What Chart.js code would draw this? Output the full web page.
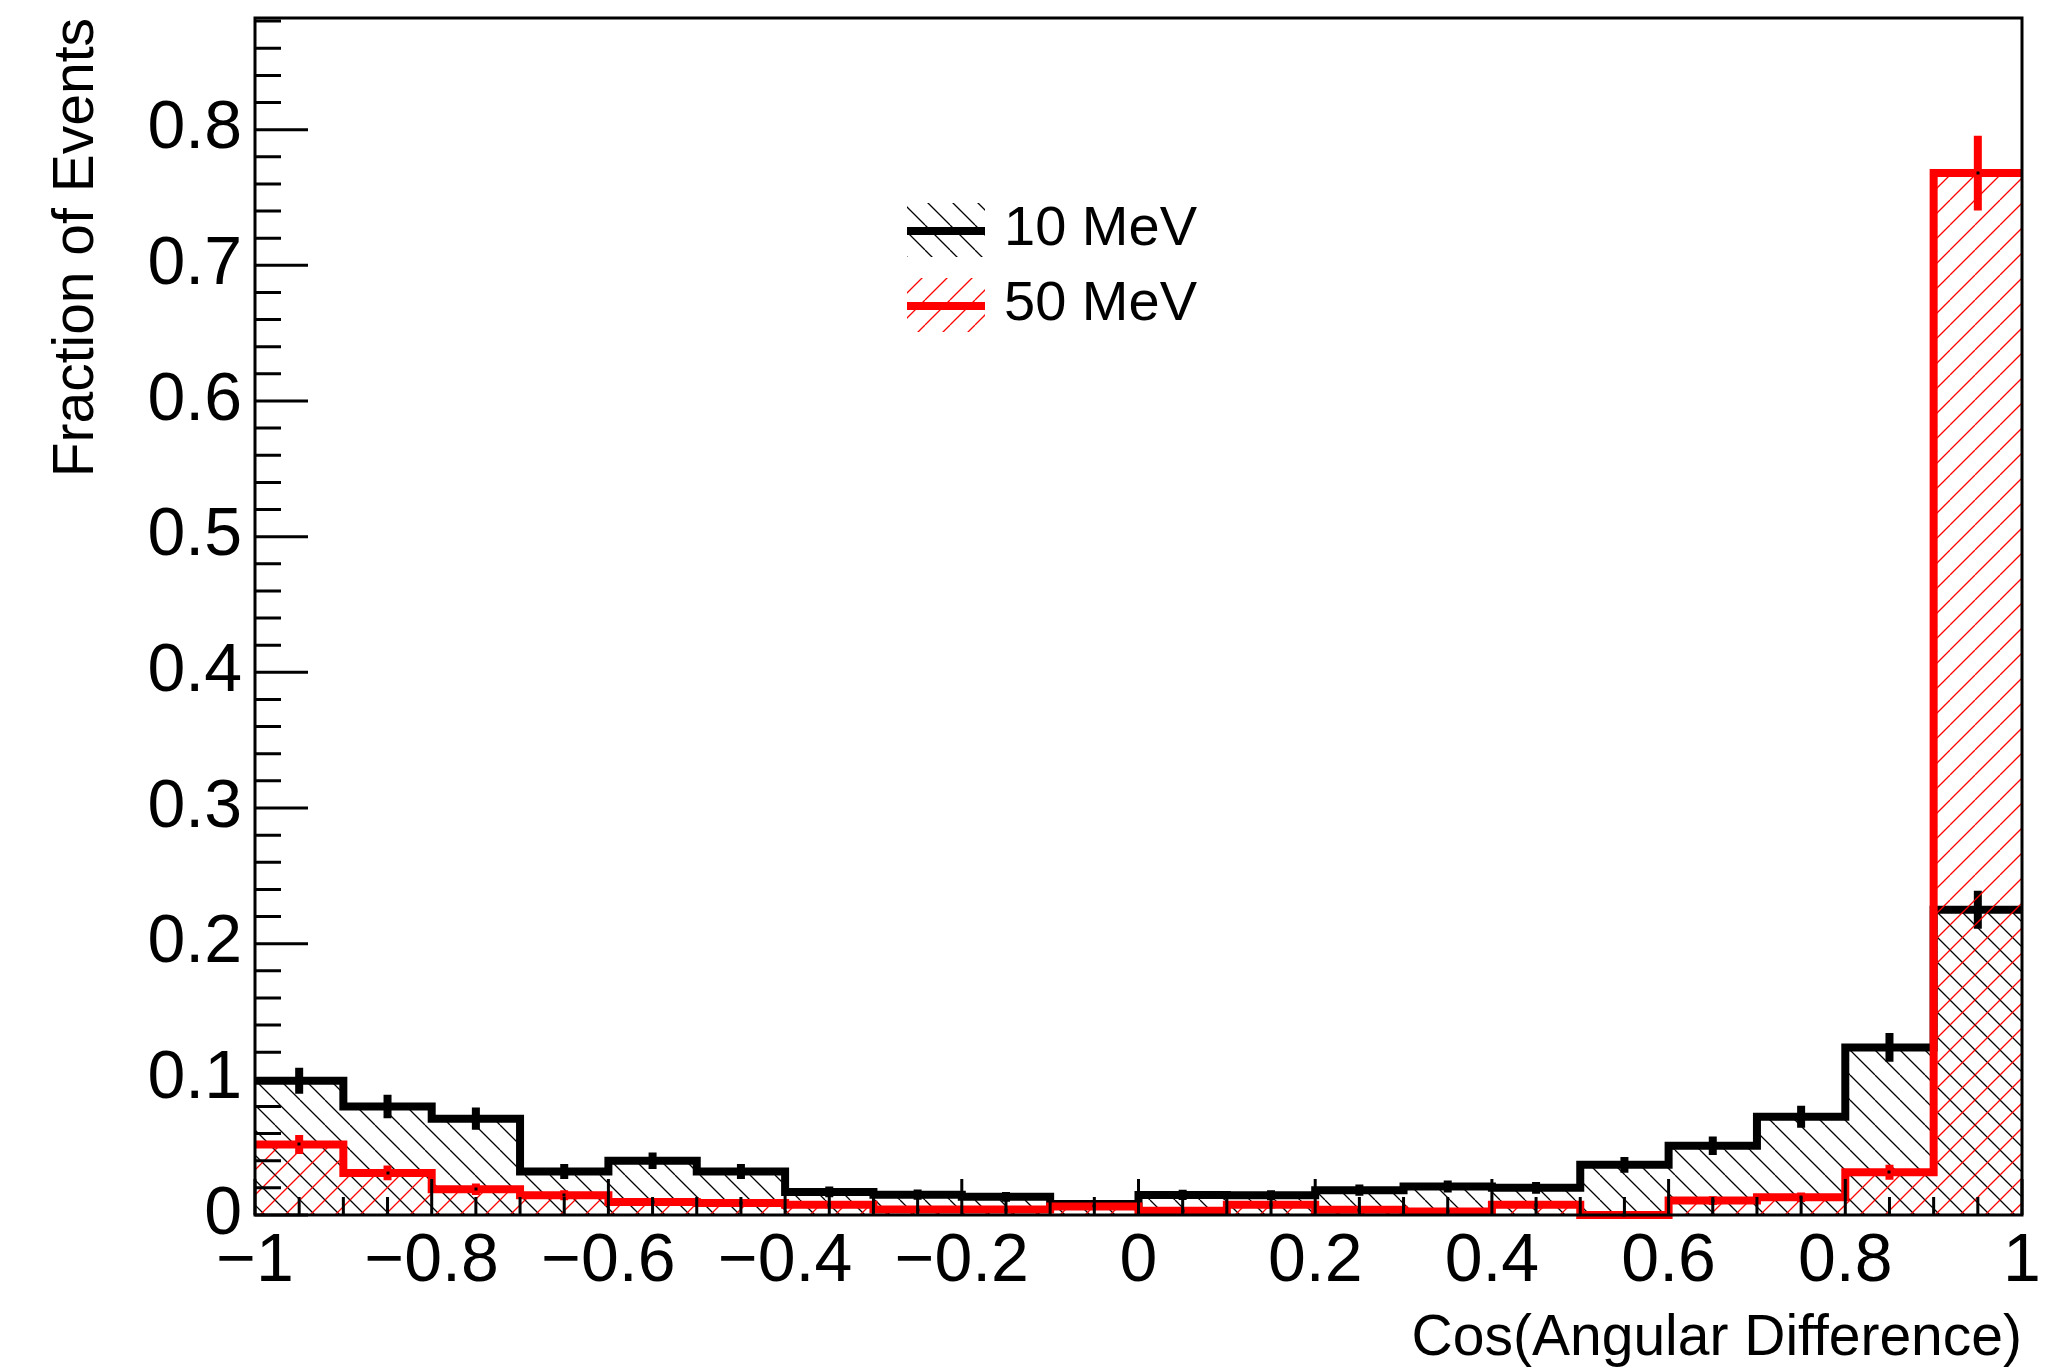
<!DOCTYPE html>
<html>
<head>
<meta charset="utf-8">
<title>Cos(Angular Difference)</title>
<script src="https://cdn.jsdelivr.net/npm/chart.js@4.4.1/dist/chart.umd.min.js"></script>
<style>
  html, body { margin: 0; padding: 0; background: #fff; }
  #wrap { width: 2071px; height: 1368px; }
</style>
</head>
<body>
<div id="wrap"><canvas id="hist" width="2071" height="1368"></canvas></div>
<script>
// 20 bins of 0.1 in cos(angle)
const binEdges = [-1, -0.9, -0.8, -0.7, -0.6, -0.5, -0.4, -0.3, -0.2, -0.1, 0,
                  0.1, 0.2, 0.3, 0.4, 0.5, 0.6, 0.7, 0.8, 0.9, 1];

// fraction of events per bin and its error
const frac10 = [0.099, 0.080, 0.071, 0.032, 0.040, 0.032, 0.017, 0.015, 0.0134, 0.0081,
                0.0148, 0.0146, 0.0183, 0.021, 0.020, 0.037, 0.051, 0.0725, 0.1235, 0.225];
const err10  = [0.0096, 0.0087, 0.0082, 0.0055, 0.0061, 0.0055, 0.0040, 0.0038, 0.0036, 0.0028,
                0.0038, 0.0037, 0.0041, 0.0044, 0.0043, 0.0058, 0.0068, 0.0081, 0.0106, 0.0140];
const frac50 = [0.052, 0.031, 0.019, 0.0145, 0.0096, 0.0088, 0.0076, 0.004, 0.004, 0.0063,
                0.0032, 0.0075, 0.0039, 0.0026, 0.0075, 0, 0.0106, 0.013, 0.0315, 0.768];
const err50  = [0.0070, 0.0054, 0.0042, 0.0037, 0.0030, 0.0029, 0.0027, 0.0019, 0.0019, 0.0024,
                0.0017, 0.0027, 0.0019, 0.0016, 0.0027, 0, 0.0032, 0.0035, 0.0055, 0.0275];

const seriesNames = ['10 MeV', '50 MeV'];

const xTicks = [-1, -0.8, -0.6, -0.4, -0.2, 0, 0.2, 0.4, 0.6, 0.8, 1];
const xTickLabels = ['\u22121', '\u22120.8', '\u22120.6', '\u22120.4', '\u22120.2', '0',
                     '0.2', '0.4', '0.6', '0.8', '1'];
const yTicks = [0, 0.1, 0.2, 0.3, 0.4, 0.5, 0.6, 0.7, 0.8];
const yTickLabels = ['0', '0.1', '0.2', '0.3', '0.4', '0.5', '0.6', '0.7', '0.8'];

const FONT = '"Liberation Sans", Arial, Helvetica, sans-serif';
const RED = '#ff0000';
const Y_MAX = 0.8823;
const LINE_W = 8;

const canvas = document.getElementById('hist');
const ctx2d = canvas.getContext('2d');

// diagonal hatch tile, dir '\\' or '/'
function hatch(color, dir, gap) {
  const tile = document.createElement('canvas');
  tile.width = gap; tile.height = gap;
  const g = tile.getContext('2d');
  g.strokeStyle = color;
  g.lineWidth = 1.3;
  g.beginPath();
  for (const off of [-gap, 0, gap]) {
    if (dir === '\\') { g.moveTo(off, 0); g.lineTo(off + gap, gap); }
    else { g.moveTo(off, gap); g.lineTo(off + gap, 0); }
  }
  g.stroke();
  return ctx2d.createPattern(tile, 'repeat');
}

const hatch10 = hatch('#000', '\\', 25);
const hatch50 = hatch(RED, '/', 25);

// histogram outline: each bin becomes a flat segment
function stepPoints(vals) {
  const pts = [];
  vals.forEach((v, i) => {
    pts.push({x: binEdges[i], y: v});
    pts.push({x: binEdges[i + 1], y: v});
  });
  return pts;
}

function binCenter(i) { return (binEdges[i] + binEdges[i + 1]) / 2; }

const errSets = [
  {vals: frac50, errs: err50, color: RED},
  {vals: frac10, errs: err10, color: '#000'}
];

const rootStyle = {
  id: 'rootStyle',
  // error bars and bin markers go right after their own histogram
  afterDatasetDraw(chart, args) {
    const {ctx, scales: {x, y}} = chart;
    const set = errSets[args.index];
    ctx.save();
    ctx.strokeStyle = set.color;
    ctx.lineWidth = LINE_W;
    ctx.lineCap = 'butt';
    ctx.beginPath();
    set.vals.forEach((v, i) => {
      if (!set.errs[i]) return;
      const cx = x.getPixelForValue(binCenter(i));
      ctx.moveTo(cx, y.getPixelForValue(v - set.errs[i]));
      ctx.lineTo(cx, y.getPixelForValue(v + set.errs[i]));
    });
    ctx.stroke();
    ctx.fillStyle = '#000';
    set.vals.forEach((v, i) => {
      const cx = Math.round(x.getPixelForValue(binCenter(i)));
      const cy = Math.round(y.getPixelForValue(v));
      ctx.fillRect(cx - 1.5, cy - 1.5, 3, 3);
    });
    ctx.restore();
  },
  afterDatasetsDraw(chart) {
    const {ctx, chartArea: a, scales: {x, y}} = chart;
    ctx.save();
    ctx.strokeStyle = '#000';
    ctx.lineWidth = 3;
    ctx.beginPath();
    // x ticks: major every 0.2, minor every 0.05
    for (let k = 0; k <= 40; k++) {
      const px = x.getPixelForValue(-1 + k * 0.05);
      const len = k % 4 === 0 ? 36 : 18;
      ctx.moveTo(px, a.bottom);
      ctx.lineTo(px, a.bottom - len);
    }
    // y ticks: major every 0.1, minor every 0.02
    for (let k = 0; k * 0.02 <= Y_MAX; k++) {
      const py = y.getPixelForValue(k * 0.02);
      const len = k % 5 === 0 ? 53 : 26;
      ctx.moveTo(a.left, py);
      ctx.lineTo(a.left + len, py);
    }
    ctx.stroke();
    ctx.strokeRect(a.left, a.top, a.right - a.left, a.bottom - a.top);
    ctx.restore();
  },
  afterDraw(chart) {
    const {ctx} = chart;
    const rows = [
      {label: seriesNames[0], color: '#000', fill: hatch10, y: 231},
      {label: seriesNames[1], color: RED, fill: hatch50, y: 306}
    ];
    ctx.save();
    rows.forEach(r => {
      ctx.fillStyle = r.fill;
      ctx.fillRect(907, r.y - 28, 78, 54);
      ctx.strokeStyle = r.color;
      ctx.lineWidth = LINE_W;
      ctx.beginPath();
      ctx.moveTo(907, r.y);
      ctx.lineTo(985, r.y);
      ctx.stroke();
      ctx.fillStyle = '#000';
      ctx.font = '56px ' + FONT;
      ctx.textBaseline = 'alphabetic';
      ctx.textAlign = 'left';
      ctx.fillText(r.label, 1004, r.y + 14);
    });
    ctx.restore();
  }
};

Chart.defaults.font.family = FONT;
Chart.defaults.color = '#000';

new Chart(canvas, {
  type: 'line',
  data: {
    datasets: [
      {
        label: seriesNames[1],
        data: stepPoints(frac50),
        borderColor: RED,
        borderWidth: LINE_W,
        backgroundColor: hatch50,
        fill: 'origin',
        pointRadius: 0,
        tension: 0,
        borderJoinStyle: 'miter',
        borderCapStyle: 'butt',
        clip: 10
      },
      {
        label: seriesNames[0],
        data: stepPoints(frac10),
        borderColor: '#000',
        borderWidth: LINE_W,
        backgroundColor: hatch10,
        fill: 'origin',
        pointRadius: 0,
        tension: 0,
        borderJoinStyle: 'miter',
        borderCapStyle: 'butt',
        clip: 10
      }
    ]
  },
  options: {
    responsive: false,
    animation: false,
    devicePixelRatio: 1,
    events: [],
    layout: { padding: { left: 0, right: 49, top: 18, bottom: 0 } },
    plugins: { legend: { display: false }, tooltip: { enabled: false } },
    scales: {
      x: {
        type: 'linear',
        min: -1,
        max: 1,
        grid: { display: false, drawTicks: false },
        border: { display: false },
        afterBuildTicks: s => { s.ticks = xTicks.map(v => ({value: v})); },
        afterFit: s => {
          s.height = 153;
          s.paddingLeft = s.paddingRight = s.paddingTop = s.paddingBottom = 0;
        },
        ticks: {
          autoSkip: false,
          maxRotation: 0,
          padding: 6,
          font: { size: 68 },
          callback: (v, i) => xTickLabels[i]
        },
        title: {
          display: true,
          text: 'Cos(Angular Difference)',
          align: 'end',
          font: { size: 57, lineHeight: 1 },
          padding: { top: 0, bottom: 0 }
        }
      },
      y: {
        min: 0,
        max: Y_MAX,
        grid: { display: false, drawTicks: false },
        border: { display: false },
        afterBuildTicks: s => { s.ticks = yTicks.map(v => ({value: v})); },
        afterFit: s => {
          s.width = 255;
          s.paddingLeft = s.paddingRight = s.paddingTop = s.paddingBottom = 0;
        },
        ticks: {
          autoSkip: false,
          padding: 13,
          font: { size: 68 },
          callback: (v, i) => yTickLabels[i]
        },
        title: {
          display: true,
          text: 'Fraction of Events',
          align: 'end',
          font: { size: 57, lineHeight: 1 },
          padding: { top: 49, bottom: 0 }
        }
      }
    }
  },
  plugins: [rootStyle]
});
</script>
</body>
</html>
